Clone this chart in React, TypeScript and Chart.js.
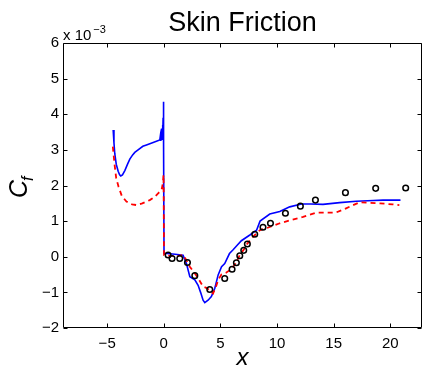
import React, { useEffect, useRef } from 'react';
import { Chart, registerables } from 'chart.js';
Chart.register(...registerables);

const xTicks = [-5, 0, 5, 10, 15, 20];
const yTicks = [-2, -1, 0, 1, 2, 3, 4, 5, 6];

// Blue solid (simulation 1)
const blueX = [-4.47, -4.4, -4.33, -4.2, -4.03, -3.9, -3.8, -3.65, -3.44, -3.2, -3.0, -2.75, -2.56, -2.27, -1.85, -1.53, -0.94, -0.35, -0.3, -0.26, -0.23, -0.2, -0.17, -0.14, -0.11, -0.08, -0.06, -0.04, -0.02, 0.0, 0.02,
  0.3, 1.0, 1.7, 2.0, 2.3, 2.74, 3.03, 3.25, 3.47, 3.62, 3.91, 4.2, 4.5, 4.8, 5.1, 5.38, 5.8, 6.1, 6.5, 6.85, 7.6, 8.2, 8.5, 9.36, 10.24, 11.12, 12.15, 13.0, 14.06, 15.53, 17.0, 18.5, 19.36, 20.9];
const blueY = [3.56, 3.2, 2.9, 2.6, 2.4, 2.3, 2.27, 2.3, 2.42, 2.6, 2.74, 2.86, 2.93, 3.0, 3.1, 3.14, 3.21, 3.28, 3.4, 3.25, 3.5, 3.28, 3.6, 3.3, 3.7, 3.35, 3.9, 3.5, 4.35, 3.2, 0.1,
  0.09, 0.07, 0.04, -0.19, -0.56, -0.65, -0.8, -1.0, -1.22, -1.29, -1.22, -1.12, -0.89, -0.51, -0.28, -0.19, 0.09, 0.19, 0.33, 0.45, 0.61, 0.75, 1.0, 1.2, 1.27, 1.4, 1.48, 1.48, 1.47, 1.52, 1.56, 1.58, 1.59, 1.59];

// Red dashed (simulation 2)
const redX = [-4.5, -4.35, -4.2, -4.0, -3.7, -3.3, -2.8, -2.4, -1.9, -1.24, -0.8, -0.5, -0.2, -0.09, -0.02, 0.02,
  0.5, 1.2, 1.7, 2.0, 2.3, 2.7, 3.03, 3.47, 3.8, 4.06, 4.35, 4.6, 4.8, 5.09, 5.5, 6.03, 6.41, 6.71, 7.06, 7.38, 7.88, 8.5, 9.06, 10.24, 11.1, 12.3, 13.5, 15.2, 16.1, 17.3, 19.1, 20.2, 20.8];
const redY = [3.09, 2.6, 2.2, 1.97, 1.7, 1.55, 1.47, 1.45, 1.5, 1.59, 1.68, 1.78, 1.87, 2.05, 2.3, 0.05,
  0.03, 0.02, 0.05, -0.1, -0.28, -0.45, -0.6, -0.84, -0.88, -0.95, -1.03, -0.85, -0.65, -0.5, -0.45, -0.33, -0.15, 0.05, 0.2, 0.37, 0.56, 0.75, 0.8, 0.94, 1.02, 1.12, 1.24, 1.24, 1.36, 1.53, 1.5, 1.47, 1.45];

// Experiment (circles)
const expX = [0.38, 0.73, 1.41, 2.09, 2.74, 4.06, 5.38, 6.03, 6.41, 6.71, 7.06, 7.38, 8.03, 8.76, 9.42, 10.74, 12.06, 13.39, 16.04, 18.71, 21.36];
const expY = [0.05, -0.05, -0.05, -0.16, -0.53, -0.92, -0.61, -0.35, -0.17, 0.03, 0.18, 0.36, 0.63, 0.83, 0.94, 1.22, 1.42, 1.59, 1.8, 1.92, 1.93];

const titleText = 'Skin Friction';
const xLabel = 'x';
const yLabelMain = 'C';
const yLabelSub = 'f';
const expMain = 'x 10';
const expSup = '\u22123';

const FONT = '"Liberation Sans", Arial, Helvetica, sans-serif';

const fmt = (v: number) => (v < 0 ? '\u2212' + Math.abs(v) : String(v));
const pts = (xs: number[], ys: number[]) => xs.map((x, i) => ({ x, y: ys[i] }));

const matlabPlugin = {
  id: 'matlabBox',
  afterDatasetsDraw(chart: any) {
    const { ctx, chartArea: a, scales } = chart;
    ctx.save();
    ctx.strokeStyle = '#000';
    ctx.lineWidth = 1;
    const L = Math.round(a.left) + 0.5;
    const R = Math.round(a.right) - 0.5;
    const T = Math.round(a.top) + 0.5;
    const B = Math.round(a.bottom) - 0.5;
    ctx.beginPath();
    ctx.rect(L, T, R - L, B - T);
    ctx.stroke();
    const tl = 4;
    ctx.beginPath();
    for (const v of xTicks) {
      const p = Math.round(scales.x.getPixelForValue(v)) + 0.5;
      ctx.moveTo(p, B); ctx.lineTo(p, B - tl);
      ctx.moveTo(p, T); ctx.lineTo(p, T + tl);
    }
    for (const v of yTicks) {
      const p = Math.round(scales.y.getPixelForValue(v)) + 0.5;
      ctx.moveTo(L, p); ctx.lineTo(L + tl, p);
      ctx.moveTo(R, p); ctx.lineTo(R - tl, p);
    }
    ctx.stroke();
    ctx.restore();
  },
  afterDraw(chart: any) {
    const { ctx, chartArea: a } = chart;
    ctx.save();
    ctx.fillStyle = '#000';
    // title
    ctx.font = `27px ${FONT}`;
    ctx.textAlign = 'center';
    ctx.textBaseline = 'alphabetic';
    ctx.fillText(titleText, (a.left + a.right) / 2, 31);
    // x label
    ctx.font = `italic 24px ${FONT}`;
    ctx.fillText(xLabel, (a.left + a.right) / 2, 365);
    // exponent
    ctx.textAlign = 'left';
    ctx.font = `15px ${FONT}`;
    ctx.fillText(expMain, a.left, 40);
    const w = ctx.measureText(expMain).width;
    ctx.font = `11px ${FONT}`;
    ctx.fillText(expSup, a.left + w + 2, 33);
    // y label rotated
    ctx.translate(27, 198);
    ctx.rotate(-Math.PI / 2);
    ctx.font = `italic 25px ${FONT}`;
    ctx.fillText(yLabelMain, 0, 0);
    const cw = ctx.measureText(yLabelMain).width;
    ctx.font = `italic 16px ${FONT}`;
    ctx.fillText(yLabelSub, cw - 1, 6);
    ctx.restore();
  },
};

export default function App() {
  const ref = useRef<HTMLCanvasElement>(null);
  useEffect(() => {
    document.body.style.margin = '0';
    const canvas = ref.current;
    if (!canvas) return;
    const chart = new Chart(canvas, {
      type: 'scatter',
      data: {
        datasets: [
          {
            type: 'line',
            data: pts(blueX, blueY),
            borderColor: '#0000ff',
            borderWidth: 1.6,
            pointRadius: 0,
            fill: false,
            tension: 0,
            order: 3,
          } as any,
          {
            type: 'line',
            data: pts(redX, redY),
            borderColor: '#ff0000',
            borderWidth: 1.8,
            borderDash: [5, 4],
            pointRadius: 0,
            fill: false,
            tension: 0,
            order: 2,
          } as any,
          {
            type: 'scatter',
            data: pts(expX, expY),
            showLine: false,
            pointRadius: 2.8,
            pointBorderWidth: 1.5,
            pointBorderColor: '#000',
            pointBackgroundColor: 'rgba(0,0,0,0)',
            borderColor: '#000',
            backgroundColor: 'rgba(0,0,0,0)',
            order: 1,
          } as any,
        ],
      },
      options: {
        animation: false,
        responsive: false,
        maintainAspectRatio: false,
        events: [],
        layout: { autoPadding: false, padding: { top: 43, right: 1, left: 0, bottom: 0 } },
        plugins: { legend: { display: false }, tooltip: { enabled: false }, title: { display: false } },
        scales: {
          x: {
            type: 'linear',
            min: -8.9,
            max: 22.8,
            afterBuildTicks: (s: any) => { s.ticks = xTicks.map((v) => ({ value: v })); },
            afterFit: (s: any) => { s.height = 39; s.paddingLeft = 0; s.paddingRight = 0; },
            grid: { display: false, drawTicks: false },
            border: { display: false },
            ticks: { padding: 7, color: '#000', font: { family: FONT, size: 15 }, maxRotation: 0, autoSkip: false, callback: (v: any) => fmt(Number(v)) },
          },
          y: {
            type: 'linear',
            min: -2,
            max: 6,
            afterBuildTicks: (s: any) => { s.ticks = yTicks.map((v) => ({ value: v })); },
            afterFit: (s: any) => { s.width = 63; s.paddingTop = 0; s.paddingBottom = 0; },
            grid: { display: false, drawTicks: false },
            border: { display: false },
            ticks: { padding: 4, color: '#000', font: { family: FONT, size: 15 }, autoSkip: false, callback: (v: any) => fmt(Number(v)) },
          },
        },
      } as any,
      plugins: [matlabPlugin],
    });
    return () => chart.destroy();
  }, []);
  return (
    <div style={{ position: 'absolute', left: 0, top: 0, width: 423, height: 367, background: '#fff' }}>
      <canvas ref={ref} width={423} height={367} style={{ display: 'block', width: 423, height: 367 }} />
    </div>
  );
}
